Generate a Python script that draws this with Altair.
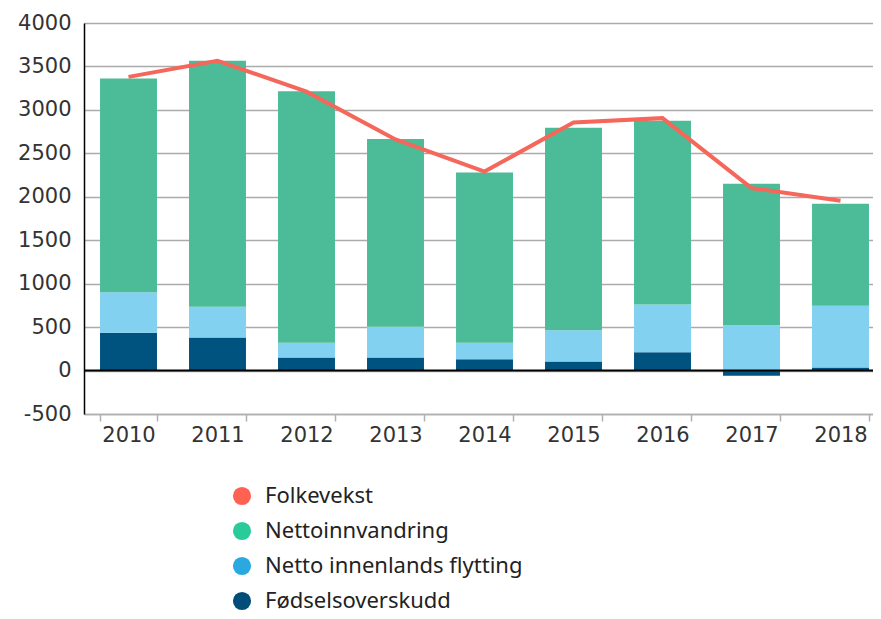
import altair as alt
import pandas as pd

years = ["2010", "2011", "2012", "2013", "2014", "2015", "2016", "2017", "2018"]
fodselsoverskudd = [435, 380, 150, 150, 130, 105, 210, -60, 35]
innenlands = [465, 355, 170, 355, 190, 360, 550, 520, 712]
innvandring = [2460, 2830, 2895, 2160, 1960, 2330, 2115, 1630, 1173]
folkevekst = [3380, 3565, 3210, 2660, 2290, 2855, 2905, 2100, 1955]

series = ["Folkevekst", "Nettoinnvandring", "Netto innenlands flytting", "Fødselsoverskudd"]
legend_colors = ["#FF6153", "#2ACB9B", "#2AA8E0", "#004D7A"]
bar_colors = {"Fødselsoverskudd": "#00527F", "Netto innenlands flytting": "#82D1F0", "Nettoinnvandring": "#4BBC97"}

rows = []
for i, y in enumerate(years):
    for k, (name, vals) in enumerate([("Fødselsoverskudd", fodselsoverskudd),
                                       ("Netto innenlands flytting", innenlands),
                                       ("Nettoinnvandring", innvandring)]):
        rows.append({"year": y, "series": name, "value": vals[i], "ord": k, "col": bar_colors[name]})
bars_df = pd.DataFrame(rows)
line_df = pd.DataFrame({"year": years, "value": folkevekst})
legend_df = pd.DataFrame({"series": series, "year": [years[0]] * 4, "value": [0] * 4})

xenc = alt.X("year:N", title=None, sort=years,
             scale=alt.Scale(paddingInner=0.36, paddingOuter=0.18),
             axis=alt.Axis(labelAngle=0, labelFontSize=21, labelFont="DejaVu Sans",
                           labelColor="#333333", tickBand="extent", tickSize=7,
                           tickColor="#b0b0b0", tickWidth=1.5, domainColor="#b0b0b0",
                           domainWidth=1.5, labelPadding=3, grid=False))
yscale = alt.Scale(domain=[-500, 4000], nice=False)
yaxis = alt.Axis(values=list(range(-500, 4001, 500)),
                 labelExpr="datum.value < 0 ? '-' + abs(datum.value) : '' + datum.value",
                 labelFontSize=21, labelFont="DejaVu Sans", labelColor="#333333", ticks=False,
                 labelPadding=13, gridColor="#ababab", gridWidth=1.5,
                 domainColor="#000000", domainWidth=1.5)

bars = alt.Chart(bars_df).mark_bar().encode(
    x=xenc,
    y=alt.Y("value:Q", stack="zero", scale=yscale, axis=yaxis, title=None),
    color=alt.Color("col:N", scale=None),
    order=alt.Order("ord:Q"),
)

zero = alt.Chart(pd.DataFrame({"v": [0]})).mark_rule(color="#000000", strokeWidth=2).encode(
    y=alt.Y("v:Q", scale=yscale)
)

line = alt.Chart(line_df).mark_line(color="#F4675A", strokeWidth=4).encode(
    x=alt.X("year:N", sort=years),
    y=alt.Y("value:Q", scale=yscale),
)

legend_layer = alt.Chart(legend_df).mark_circle(opacity=0).encode(
    x=alt.X("year:N", sort=years),
    y=alt.Y("value:Q", scale=yscale),
    color=alt.Color("series:N", sort=series,
                    scale=alt.Scale(domain=series, range=legend_colors),
                    legend=alt.Legend(title=None, orient="none", legendX=147, legendY=462,
                                      symbolType="circle", symbolSize=330, symbolOpacity=1,
                                      symbolStrokeWidth=0, labelFontSize=22,
                                      labelFont="Noto Sans", labelColor="#222222",
                                      labelOffset=12, rowPadding=13, padding=0,
                                      labelLimit=400)),
)

chart = alt.layer(bars, line, zero, legend_layer).properties(
    width=801, height=391,
    autosize=alt.AutoSizeParams(type="none"),
    padding={"left": 76, "top": 15, "right": -12, "bottom": 197},
).configure_view(stroke=None)

chart.save("out.html", embed_options={"renderer": "svg", "actions": False})
